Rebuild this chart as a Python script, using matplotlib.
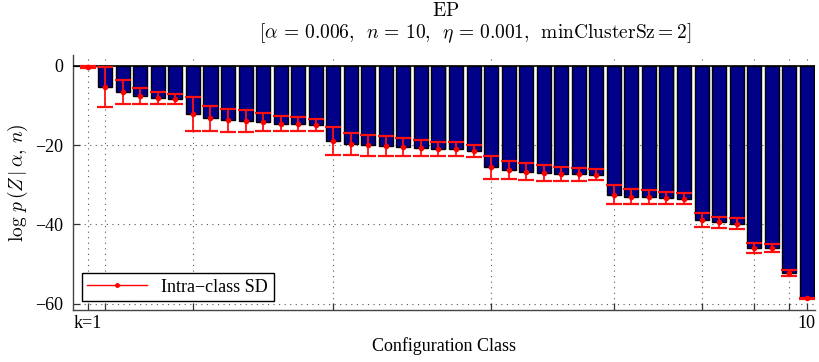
import numpy as np
import matplotlib
matplotlib.use("Agg")
import matplotlib.pyplot as plt
from matplotlib.lines import Line2D

# Mean log-likelihood of each configuration class and its intra-class SD
log_p = [-0.3,
         -5.3, -6.7, -7.6, -8.2, -8.3,
         -12.1, -13.2, -13.8, -13.9, -14.1, -14.6, -14.8, -15.0,
         -19.0, -19.8, -20.1, -20.3, -20.4, -20.8, -21.0, -21.0, -21.4,
         -25.6, -26.3, -26.7, -27.0, -27.3, -27.4, -27.5,
         -32.5, -33.0, -33.2, -33.4, -33.5,
         -39.0, -39.5, -39.8,
         -45.9, -46.0,
         -52.3,
         -58.7]
sd = [0.2,
      5.0, 3.0, 2.05, 1.45, 1.25,
      4.25, 3.15, 2.8, 2.7, 2.3, 1.85, 1.75, 1.5,
      3.45, 2.75, 2.55, 2.45, 2.25, 2.0, 1.85, 1.7, 1.5,
      2.85, 2.35, 2.15, 1.95, 1.8, 1.55, 1.35,
      2.3, 1.85, 1.75, 1.55, 1.35,
      1.75, 1.45, 1.3,
      1.25, 1.05,
      0.8,
      0.2]
# number of classes for each k = 1..10
group_sizes = [1, 5, 8, 9, 7, 5, 3, 2, 1, 1]
tick_labels = ["k=1", "", "", "", "", "", "", "", "", "10"]

plt.rcParams["mathtext.fontset"] = "cm"
serif = ["Liberation Serif", "DejaVu Serif"]

x = np.arange(1, len(log_p) + 1)
tick_pos = 1 + np.concatenate([[0], np.cumsum(group_sizes)[:-1]])

W, H = 819, 362
fig = plt.figure(figsize=(W / 100, H / 100), dpi=100)
ax = fig.add_axes([73 / W, 1 - 310 / H, (815 - 73) / W, (310 - 55) / H])

# grid
for t in tick_pos:
    ax.axvline(t, color="#555555", lw=0.8, ls=(0, (1, 4)), zorder=0)
for yv in (-20, -40, -60):
    ax.axhline(yv, color="#555555", lw=0.8, ls=(0, (1, 4)), zorder=0)

# bars with a light shadow on the right edge
ax.bar(x + 0.05, log_p, width=0.82, color="#c4c4c4", edgecolor="none", zorder=1)
ax.bar(x, log_p, width=0.8, color="#000088", edgecolor="black", linewidth=1.0, zorder=2)
ax.axhline(0, color="black", lw=1.2, zorder=3)

ax.errorbar(x, log_p, yerr=sd, fmt=".", color="#ff0000", ecolor="#ff1010",
            elinewidth=1.3, capsize=5.5, capthick=1.6, markersize=6, zorder=4)

ax.set_xlim(0.16, 42.47)
ax.set_ylim(-61.6, 2.7)
ax.set_yticks([0, -20, -40, -60])
ax.set_xticks(tick_pos)
ax.set_xticklabels(tick_labels)
ax.tick_params(axis="both", direction="in", length=5, width=0.9, colors="#333333",
               labelcolor="black", labelsize=13)
ax.tick_params(axis="y", pad=7)
for lab in ax.get_xticklabels() + ax.get_yticklabels():
    lab.set_family(serif)

for s in ("top", "right"):
    ax.spines[s].set_visible(False)
for s in ("left", "bottom"):
    ax.spines[s].set_color("#444444")
    ax.spines[s].set_linewidth(1.0)

ax.set_xlabel("Configuration Class", family=serif, fontsize=13, labelpad=4)
ax.set_ylabel(r"$\log\,p\,(Z\,|\,\alpha,\,n)$", fontsize=14, labelpad=4)

# two-line title
fig.text(446 / W, 1 - 11 / H, r"$\mathrm{EP}$", fontsize=14, ha="center", va="center")
fig.text(475 / W, 1 - 33 / H,
         r"$[\alpha\,=\,0.006,\ \,n\,=\,10,\ \,\eta\,=\,0.001,\ \,\mathrm{minClusterSz{=}2}]$",
         fontsize=14, ha="center", va="center")

handle = Line2D([], [], color="#ff0000", lw=1.0, marker=".", markersize=5)
leg = ax.legend([handle], ["Intra\u2212class SD"], loc="lower left",
                bbox_to_anchor=(0.012, 0.035), borderaxespad=0,
                prop={"family": serif, "size": 13},
                handlelength=3.3, fancybox=False, framealpha=1, edgecolor="black",
                borderpad=0.3)
leg.get_frame().set_linewidth(1.0)

fig.savefig("out.png", dpi=100)
